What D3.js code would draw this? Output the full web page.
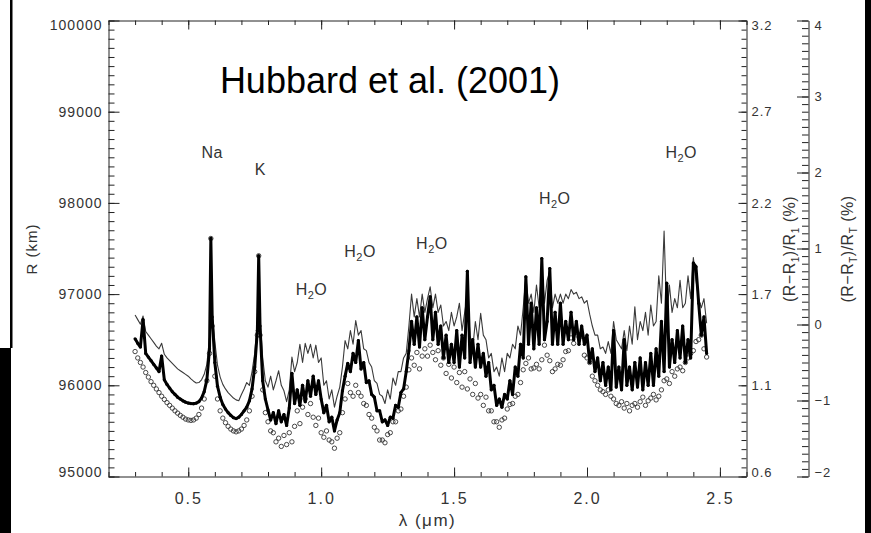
<!DOCTYPE html>
<html>
<head>
<meta charset="utf-8">
<script src="https://cdn.jsdelivr.net/npm/d3@7"></script>
<style>
  body { margin: 0; background: #fff; }
</style>
</head>
<body>
<script>
// wavelength grid (micron)
const wavelength = [
  0.30, 0.31, 0.32, 0.33, 0.34, 0.35, 0.36, 0.37, 0.38, 0.39,
  0.40, 0.41, 0.42, 0.43, 0.44, 0.45, 0.46, 0.47, 0.48, 0.49,
  0.50, 0.51, 0.52, 0.53, 0.54, 0.55, 0.56, 0.57, 0.58, 0.585, 0.59,
  0.60, 0.61, 0.62, 0.63, 0.64, 0.65, 0.66, 0.67, 0.68, 0.69,
  0.70, 0.71, 0.72, 0.73, 0.74, 0.75, 0.76, 0.765, 0.77, 0.78, 0.79,
  0.80, 0.81, 0.82, 0.83, 0.84, 0.85, 0.86, 0.87, 0.88, 0.89,
  0.90, 0.91, 0.92, 0.93, 0.94, 0.95, 0.96, 0.97, 0.98, 0.99,
  1.00, 1.01, 1.02, 1.03, 1.04, 1.05, 1.06, 1.07, 1.08, 1.09,
  1.10, 1.11, 1.12, 1.13, 1.14, 1.15, 1.16, 1.17, 1.18, 1.19,
  1.20, 1.21, 1.22, 1.23, 1.24, 1.25, 1.26, 1.27, 1.28, 1.29,
  1.30, 1.31, 1.32, 1.33, 1.34, 1.35, 1.36, 1.37, 1.38, 1.39,
  1.40, 1.41, 1.42, 1.43, 1.44, 1.45, 1.46, 1.47, 1.48, 1.49,
  1.50, 1.51, 1.52, 1.53, 1.54, 1.55, 1.56, 1.57, 1.58, 1.59,
  1.60, 1.61, 1.62, 1.63, 1.64, 1.65, 1.66, 1.67, 1.68, 1.69,
  1.70, 1.71, 1.72, 1.73, 1.74, 1.75, 1.76, 1.77, 1.78, 1.79,
  1.80, 1.81, 1.82, 1.83, 1.84, 1.85, 1.86, 1.87, 1.88, 1.89,
  1.90, 1.91, 1.92, 1.93, 1.94, 1.95, 1.96, 1.97, 1.98, 1.99,
  2.00, 2.01, 2.02, 2.03, 2.04, 2.05, 2.06, 2.07, 2.08, 2.09,
  2.10, 2.11, 2.12, 2.13, 2.14, 2.15, 2.16, 2.17, 2.18, 2.19,
  2.20, 2.21, 2.22, 2.23, 2.24, 2.25, 2.26, 2.27, 2.28, 2.29,
  2.30, 2.31, 2.32, 2.33, 2.34, 2.35, 2.36, 2.37, 2.38, 2.39,
  2.40, 2.41, 2.42, 2.43, 2.44, 2.45
];

// R (km), thin upper curve
const seriesThin = [
  96770, 96720, 96670, 96760, 96590, 96550, 96510, 96470, 96430, 96400,
  96460, 96340, 96300, 96270, 96240, 96210, 96180, 96160, 96140, 96120,
  96100, 96070, 96045, 96025, 96030, 96060, 96120, 96230, 96520, 97610, 96800,
  96480, 96220, 96090, 96010, 95960, 95920, 95890, 95860, 95840, 95830,
  95900, 95960, 96030, 96000, 96150, 96350, 96700, 97420, 96750, 96300, 96050,
  95980, 96100, 95950, 96050, 96160, 96000, 95940, 95820, 95950, 96310,
  96150, 96250, 96450, 96250, 96460, 96350, 96450, 96300, 96440, 96250,
  96300, 96000, 96050, 95850, 95950, 95760, 95880, 95980, 96200, 96490,
  96400, 96600, 96450, 96710, 96550, 96600, 96400, 96380, 96250, 96200,
  96050, 96020, 95900, 95880, 95800, 95950, 95850, 96080, 96000, 96150,
  96150, 96300, 96350, 96650, 97000, 96750, 96950, 96750, 97000, 96800,
  96950, 97080, 96850, 97000, 96800, 96880, 96650, 96700, 96600, 96800,
  96650, 96750, 96900, 96600, 96800, 97000, 96550, 96400, 96700, 96500,
  96790, 96550, 96500, 96300, 96350, 96150, 96200, 96100, 96300, 96150,
  96350, 96300, 96450, 96400, 96650, 96550, 96850, 97190, 96900, 97000,
  96800, 97100, 96850, 97300, 96900, 97150, 97250, 96850, 97000, 96900,
  97000, 96900, 97000, 96950, 97050, 97000, 97020, 96950, 96970, 96900,
  96930, 96780, 96650, 96550, 96550, 96400, 96420, 96350, 96480, 96350,
  96700, 96500, 96450, 96400, 96600, 96380, 96650, 96450, 96860, 96500,
  96700, 96600, 96800, 96550, 96880, 96650, 96700, 97200, 96900, 97690,
  96750, 97100, 96800, 96950, 96850, 97150, 96850, 96900, 97200, 96950,
  97400, 97150, 96950, 96850, 96950, 96680
];

// R (km), thick middle curve
const seriesThick = [
  96510, 96460, 96420, 96720, 96350, 96310, 96270, 96230, 96190, 96150,
  96320, 96060, 96010, 95970, 95930, 95900, 95870, 95850, 95830, 95815,
  95805, 95800, 95798, 95805, 95820, 95860, 95930, 96060, 96400, 97610, 96750,
  96250, 95990, 95870, 95790, 95740, 95700, 95670, 95645, 95635, 95650,
  95680, 95720, 95760, 95830, 95960, 96200, 96600, 97420, 96650, 96050, 95850,
  95730, 95620, 95700, 95580, 95720, 95600, 95680, 95560, 95750, 96130,
  95800, 95950, 95780, 96000, 95820, 96050, 95880, 96100, 95900, 96050,
  95850, 95700, 95780, 95600, 95650, 95500, 95620, 95700, 95940, 96100,
  96240, 96150, 96350, 96250, 96490, 96180, 96250, 96030, 96050, 95900,
  95870, 95720, 95720, 95600, 95620, 95560, 95650, 95640, 95780, 95760,
  95920, 95960, 96150, 96380, 96700, 96450, 96750, 96420, 96850, 96500,
  96750, 96970, 96500, 96800, 96450, 96650, 96300, 96550, 96250, 96450,
  96250, 96600, 96200, 96550, 96300, 97250, 96250, 96500, 96200, 96450,
  96200, 96350, 96100, 96250, 95950, 96000, 95780, 95850, 95760, 95900,
  95850, 96050, 95900, 96200, 96100, 96450, 96300, 97190, 96450, 96900,
  96400, 96850, 96450, 97390, 96500, 96700, 97280, 96450, 96800, 96450,
  96900, 96450, 96700, 96500, 96800, 96500, 96700, 96450, 96650, 96450,
  96550, 96250, 96400, 96150, 96300, 96050, 96250, 96000, 96200, 95950,
  96600, 95980, 96200, 95950, 96500, 96000, 96200, 95950, 96250, 95980,
  96300, 95950, 96250, 96000, 96350, 96000, 96400, 96100, 96700, 96150,
  97120, 96200, 96500, 96250, 96600, 96300, 96650, 96250, 96500, 96300,
  97340, 97300, 96900, 96550, 96750, 96350
];

// R (km), open circles (lower curve)
const seriesCircles = [
  96370, 96300, 96250, 96200, 96140, 96090, 96040, 96000, 95960, 95920,
  95880, 95845, 95810, 95780, 95750, 95720, 95695, 95670, 95650, 95630,
  95620, 95615, 95620, 95640, 95680, 95750, 95850, 96050, 96350, 97610, 96650,
  96100, 95850, 95720, 95640, 95590, 95550, 95520, 95500, 95490, 95500,
  95520, 95560, 95620, 95720, 95880, 96150, 96550, 97420, 96550, 95950, 95700,
  95600, 95500, 95480, 95380, 95420, 95330, 95450, 95350, 95480, 95380,
  95550, 95720, 95580, 95760, 95850, 95680, 95800, 95650, 95560, 95640,
  95480, 95430, 95500, 95400, 95380, 95310, 95420, 95480, 95700, 95850,
  96020, 95920, 95880, 96000, 95920, 95880, 95800, 95780, 95680, 95640,
  95540, 95500, 95400, 95400, 95370, 95460, 95480, 95600, 95600, 95720,
  95740, 95880, 95980, 96170, 96300, 96220, 96360, 96180, 96320, 96400,
  96320, 96440, 96360, 96280, 96380, 96220, 96300, 96130, 96230, 96080,
  96200, 96030, 96140, 95980, 96150, 95960, 96070, 95900, 96020, 95860,
  95900, 95780, 95870, 95720, 95720, 95600, 95600, 95540, 95620, 95640,
  95740, 95790, 95800, 95880, 95900, 96030, 96170, 96240, 96300, 96180,
  96190, 96230, 96180, 96280, 96440, 96330, 96270, 96150, 96180, 96230,
  96220, 96280, 96370, 96380, 96520, 96460, 96580, 96530, 96540, 96330,
  96300, 96250, 96100, 96050, 96000, 95950, 95930, 95900, 95950, 95880,
  95850, 95800, 95780, 95820, 95750, 95800, 95720, 95780, 95800, 95760,
  95820, 95870, 95780, 95830, 95860, 95900, 95840, 95880, 95950, 96050,
  96070, 96020, 96150, 96100, 96180, 96200, 96160, 96250, 96300, 96350,
  96380, 96480, 96500, 96550, 96400, 96310
];

const yMajor = [95000, 96000, 97000, 98000, 99000, 100000];
const yRightLabels = ["0.6", "1.1", "1.7", "2.2", "2.7", "3.2"];
const xMajor = [0.5, 1.0, 1.5, 2.0, 2.5];
const y2Major = [-2, -1, 0, 1, 2, 3, 4];

// feature labels: [text, subscript, rest, wavelength, R]
const featureLabels = [
  ["Na", "", "", 0.550, 98495],
  ["K", "", "", 0.750, 98308],
  ["H", "2", "O", 0.904, 96989],
  ["H", "2", "O", 1.087, 97407],
  ["H", "2", "O", 1.357, 97495],
  ["H", "2", "O", 1.819, 97990],
  ["H", "2", "O", 2.295, 98495]
];

const FONT = "'Liberation Sans', Arial, sans-serif";
const plotL = 108.5, plotR = 746.5, plotT = 20.5, plotB = 476.5, axis2X = 808.5;

const svg = d3.select("body").append("svg")
              .attr("width", 871)
              .attr("height", 533)
              .style("display", "block");

svg.append("rect").attr("width", 871).attr("height", 533).attr("fill", "#fff");

// scan edges of the original figure
svg.append("rect").attr("x", 0).attr("y", 348).attr("width", 11).attr("height", 185).attr("fill", "#000");
svg.append("rect").attr("x", 10).attr("y", 0).attr("width", 2.5).attr("height", 348).attr("fill", "#000");
svg.append("rect").attr("x", 865).attr("y", 0).attr("width", 6).attr("height", 533).attr("fill", "#000");

const x = d3.scaleLinear().domain([0.2, 2.6]).range([plotL, plotR]);
const y = d3.scaleLinear().domain([95000, 100000]).range([plotB, plotT]);
const y2 = d3.scaleLinear().domain([-2, 4]).range([plotB, plotT]);

const styleAxis = (g, size) => {
    g.attr("font-family", FONT)
     .attr("font-size", size)
     .attr("color", "#222");
    g.selectAll("text").attr("fill", "#333").style("letter-spacing", "1px");
    g.selectAll("line").attr("stroke-width", 1);
    g.select(".domain").attr("stroke-width", 1);
};

// nudge end labels inside like IDL does
const nudgeEnds = (g, scale) => {
    const [lo, hi] = scale.domain();
    g.selectAll(".tick text")
     .attr("y", d => d === hi ? 5 : (d === lo ? -4 : 0));
};

// minor ticks
svg.append("g").attr("transform", `translate(${plotL},0)`)
   .call(d3.axisLeft(y).tickValues(y.ticks(50)).tickSize(-6).tickFormat("").tickSizeOuter(0))
   .call(g => g.select(".domain").remove())
   .call(g => styleAxis(g, 14));
svg.append("g").attr("transform", `translate(${plotR},0)`)
   .call(d3.axisRight(y).tickValues(y.ticks(50)).tickSize(-5).tickFormat("").tickSizeOuter(0))
   .call(g => g.select(".domain").remove())
   .call(g => styleAxis(g, 14));
svg.append("g").attr("transform", `translate(0,${plotB})`)
   .call(d3.axisBottom(x).tickValues(x.ticks(24)).tickSize(-4.5).tickFormat("").tickSizeOuter(0))
   .call(g => g.select(".domain").remove())
   .call(g => styleAxis(g, 14));
svg.append("g").attr("transform", `translate(0,${plotT})`)
   .call(d3.axisTop(x).tickValues(x.ticks(24)).tickSize(-4.5).tickFormat("").tickSizeOuter(0))
   .call(g => g.select(".domain").remove())
   .call(g => styleAxis(g, 14));
svg.append("g").attr("transform", `translate(${axis2X},0)`)
   .call(d3.axisRight(y2).tickValues(y2.ticks(60)).tickSize(-6.5).tickFormat("").tickSizeOuter(0))
   .call(g => g.select(".domain").remove())
   .call(g => styleAxis(g, 14));

// major ticks + labels
svg.append("g").attr("transform", `translate(${plotL},0)`)
   .call(d3.axisLeft(y).tickValues(yMajor).tickSize(-11).tickPadding(6)
           .tickSizeOuter(0).tickFormat(d3.format("d")))
   .call(g => styleAxis(g, 14))
   .call(g => nudgeEnds(g, y));

svg.append("g").attr("transform", `translate(${plotR},0)`)
   .call(d3.axisRight(y).tickValues(yMajor).tickSize(-8).tickPadding(5)
           .tickSizeOuter(0).tickFormat((d, i) => yRightLabels[i]))
   .call(g => styleAxis(g, 13))
   .call(g => nudgeEnds(g, y));

svg.append("g").attr("transform", `translate(0,${plotB})`)
   .call(d3.axisBottom(x).tickValues(xMajor).tickSize(-9).tickPadding(16)
           .tickSizeOuter(0).tickFormat(d3.format(".1f")))
   .call(g => styleAxis(g, 16))
   .call(g => g.selectAll("text").style("letter-spacing", "2px"));

svg.append("g").attr("transform", `translate(0,${plotT})`)
   .call(d3.axisTop(x).tickValues(xMajor).tickSize(-9).tickSizeOuter(0).tickFormat(""))
   .call(g => styleAxis(g, 14));

svg.append("g").attr("transform", `translate(${axis2X},0)`)
   .call(d3.axisRight(y2).tickValues(y2Major).tickSize(-11.5).tickPadding(6)
           .tickSizeOuter(0).tickFormat(d3.format("d")))
   .call(g => styleAxis(g, 13))
   .call(g => nudgeEnds(g, y2));

// data
const pts = series => series.map((v, i) => [wavelength[i], v]);
const line = d3.line().x(d => x(d[0])).y(d => y(d[1]));

svg.append("g")
   .selectAll("circle")
   .data(pts(seriesCircles))
   .join("circle")
   .attr("cx", d => x(d[0]))
   .attr("cy", d => y(d[1]))
   .attr("r", 2.2)
   .attr("fill", "none")
   .attr("stroke", "#333")
   .attr("stroke-width", 0.9);

svg.append("path")
   .datum(pts(seriesThin))
   .attr("d", line)
   .attr("fill", "none")
   .attr("stroke", "#3a3a3a")
   .attr("stroke-width", 1.1)
   .attr("stroke-linejoin", "round");

svg.append("path")
   .datum(pts(seriesThick))
   .attr("d", line)
   .attr("fill", "none")
   .attr("stroke", "#000")
   .attr("stroke-width", 3)
   .attr("stroke-linejoin", "round");

svg.append("g")
   .selectAll("circle")
   .data(pts(seriesThick))
   .join("circle")
   .attr("cx", d => x(d[0]))
   .attr("cy", d => y(d[1]))
   .attr("r", 1.6)
   .attr("fill", "#000");

// feature labels
featureLabels.forEach(([main, sub, rest, lx, ly]) => {
    const t = svg.append("text")
                 .attr("x", x(lx))
                 .attr("y", y(ly))
                 .style("font-family", FONT)
                 .style("font-size", "16px")
                 .style("letter-spacing", "0.5px")
                 .attr("fill", "#333");
    t.append("tspan").text(main);
    if (sub) {
        t.append("tspan").attr("dy", 4).style("font-size", "11px").text(sub);
        t.append("tspan").attr("dy", -4).text(rest);
    }
});

// title
svg.append("text")
   .text("Hubbard et al. (2001)")
   .attr("x", x(0.619))
   .attr("y", y(99209))
   .style("font-family", FONT)
   .style("font-size", "36px")
   .attr("fill", "#000");

// axis titles
svg.append("text")
   .text("λ (μm)")
   .attr("x", (plotL + plotR) / 2)
   .attr("y", 526)
   .attr("text-anchor", "middle")
   .style("font-family", FONT)
   .style("font-size", "17px")
   .style("letter-spacing", "1.5px")
   .attr("fill", "#333");

svg.append("text")
   .text("R (km)")
   .attr("transform", "translate(36.5,249) rotate(-90)")
   .attr("text-anchor", "middle")
   .style("font-family", FONT)
   .style("font-size", "15px")
   .style("letter-spacing", "1px")
   .attr("fill", "#333");

const ratioTitle = (cx, subText) => {
    const t = svg.append("text")
                 .attr("transform", `translate(${cx},249) rotate(-90)`)
                 .attr("text-anchor", "middle")
                 .style("font-family", FONT)
                 .style("font-size", "16px")
                 .style("letter-spacing", "0.5px")
                 .attr("fill", "#333");
    t.append("tspan").text("(R\u2212R");
    t.append("tspan").attr("dy", 4).style("font-size", "10px").text(subText);
    t.append("tspan").attr("dy", -4).text(")/R");
    t.append("tspan").attr("dy", 4).style("font-size", "10px").text(subText);
    t.append("tspan").attr("dy", -4).text(" (%)");
};
ratioTitle(795, "1");
ratioTitle(853, "T");
</script>
</body>
</html>
